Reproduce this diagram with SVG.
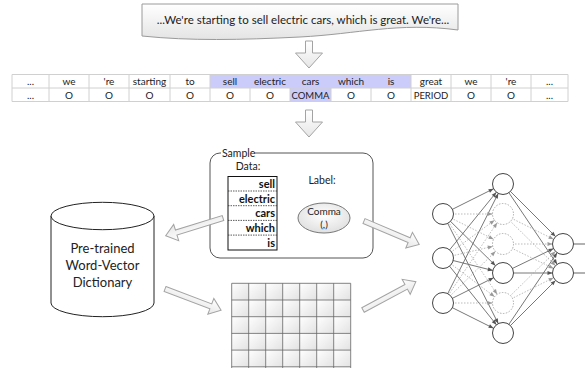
<svg xmlns="http://www.w3.org/2000/svg" width="585" height="368" viewBox="0 0 585 368">
  <style>
    text { font-family: Lato, "Liberation Sans", "DejaVu Sans", sans-serif; fill: #222; }
    .tbl { font-size: 10px; text-anchor: middle; }
    .cellline { stroke: #d0d0d0; stroke-width: 1; fill: none; }
    .blockarrow { fill: url(#arrowFill); stroke: #a3a3a3; stroke-width: 1; stroke-linejoin: miter; }
    .node { fill: #fff; stroke: #444; stroke-width: 1; }
    .ghost { fill: #fff; stroke: #aaa; stroke-width: 1; stroke-dasharray: 1.5 1.5; }
    .edge { stroke: #555; stroke-width: 0.8; fill: none; marker-end: url(#tipSolid); }
    .ghostedge { stroke: #aaa; stroke-width: 0.8; stroke-dasharray: 1.5 1.5; fill: none; marker-end: url(#tipGhost); }
    .word { font-size: 11px; font-weight: bold; text-anchor: end; fill: #111; }
  </style>
  <defs>
    <linearGradient id="bannerFill" x1="0" y1="0" x2="0" y2="1">
      <stop offset="0" stop-color="#ffffff"/>
      <stop offset="1" stop-color="#e4e4e4"/>
    </linearGradient>
    <linearGradient id="arrowFill" x1="0" y1="0" x2="0" y2="1">
      <stop offset="0" stop-color="#ffffff"/>
      <stop offset="1" stop-color="#e6e6e6"/>
    </linearGradient>
    <linearGradient id="cellFill" x1="0" y1="0" x2="1" y2="1">
      <stop offset="0" stop-color="#ffffff"/>
      <stop offset="1" stop-color="#e2e2e2"/>
    </linearGradient>
    <radialGradient id="ovalFill" cx="0.5" cy="0.4" r="0.6">
      <stop offset="0" stop-color="#ffffff"/>
      <stop offset="1" stop-color="#e0e0e0"/>
    </radialGradient>
    <pattern id="cellPat" patternUnits="userSpaceOnUse" x="231.7" y="283.3" width="17" height="16.7">
      <rect width="17" height="16.7" fill="url(#cellFill)"/>
    </pattern>
    <!-- hollow block arrows -->
    <path id="downArrow" d="M-3.5,0 V12 H-13.5 L0,27 L13.5,12 H3.5 V0 Z"/>
    <path id="sideArrow" d="M0,-2.6 H49 V-8.5 L60,0 L49,8.5 V2.6 H0 Z"/>
    <marker id="tipSolid" markerUnits="userSpaceOnUse" markerWidth="6" markerHeight="6" refX="15.5" refY="0" orient="auto" overflow="visible">
      <path d="M0,-2 L5,0 L0,2 Z" fill="#555"/>
    </marker>
    <marker id="tipGhost" markerUnits="userSpaceOnUse" markerWidth="6" markerHeight="6" refX="15.5" refY="0" orient="auto" overflow="visible">
      <path d="M0,-2 L5,0 L0,2 Z" fill="#999"/>
    </marker>
  </defs>

  <!-- sentence banner -->
  <g id="sentence">
    <path d="M142,4 H458 V30 C398,22 358,34 300,37 C240,40 190,41 142,36 Z" fill="url(#bannerFill)" stroke="#9a9a9a" stroke-width="1"/>
    <text x="303" y="24" font-size="11.5" text-anchor="middle">...We're starting to sell electric cars, which is great. We're...</text>
  </g>

  <!-- token / label table -->
  <g id="token-table">
    <rect x="12" y="74.5" width="556" height="27" fill="#fff"/>
    <rect x="210" y="74.5" width="201" height="13.5" fill="#ccccfa"/>
    <rect x="290" y="88" width="41" height="13.5" fill="#ccccfa"/>
    <path class="cellline" d="M12,74.5 H568 M12,88 H568 M12,101.5 H568
      M12,74.5 V101.5 M49,74.5 V101.5 M89,74.5 V101.5 M129,74.5 V101.5 M170,74.5 V101.5 M210,74.5 V101.5
      M250,88 V101.5 M290,88 V101.5 M331,88 V101.5 M371,88 V101.5 M411,74.5 V101.5
      M451,74.5 V101.5 M491,74.5 V101.5 M531,74.5 V101.5 M568,74.5 V101.5"/>
    <g class="tbl">
      <text x="30.5" y="85">...</text>
      <text x="69" y="85">we</text>
      <text x="109" y="85">'re</text>
      <text x="149.5" y="85">starting</text>
      <text x="190" y="85">to</text>
      <text x="230" y="85">sell</text>
      <text x="270" y="85">electric</text>
      <text x="310.5" y="85">cars</text>
      <text x="351" y="85">which</text>
      <text x="391" y="85">is</text>
      <text x="431" y="85">great</text>
      <text x="471" y="85">we</text>
      <text x="511" y="85">'re</text>
      <text x="549.5" y="85">...</text>
      <text x="30.5" y="98.5">...</text>
      <text x="69" y="98.5">O</text>
      <text x="109" y="98.5">O</text>
      <text x="149.5" y="98.5">O</text>
      <text x="190" y="98.5">O</text>
      <text x="230" y="98.5">O</text>
      <text x="270" y="98.5">O</text>
      <text x="310.5" y="98.5" font-size="9.5">COMMA</text>
      <text x="351" y="98.5">O</text>
      <text x="391" y="98.5">O</text>
      <text x="431" y="98.5" font-size="9.5">PERIOD</text>
      <text x="471" y="98.5">O</text>
      <text x="511" y="98.5">O</text>
      <text x="549.5" y="98.5">...</text>
    </g>
  </g>

  <!-- sample box -->
  <g id="sample">
    <rect x="210" y="153" width="163" height="105" rx="10" fill="#fff" stroke="#555" stroke-width="1"/>
    <rect x="221" y="149" width="33" height="8" fill="#fff"/>
    <text x="222" y="157" font-size="10.5">Sample</text>
    <text x="248" y="170" font-size="10.5" text-anchor="middle">Data:</text>
    <rect x="228" y="176.5" width="49" height="73.5" fill="#fff" stroke="#111" stroke-width="1"/>
    <path d="M228,191 H277 M228,205.7 H277 M228,220.4 H277 M228,235.1 H277" stroke="#333" stroke-width="0.8" stroke-dasharray="1.5 1"/>
    <text class="word" x="275" y="188">sell</text>
    <text class="word" x="275" y="202.5">electric</text>
    <text class="word" x="275" y="217">cars</text>
    <text class="word" x="275" y="231.7">which</text>
    <text class="word" x="275" y="246.5">is</text>
    <text x="322" y="184" font-size="10.5" text-anchor="middle">Label:</text>
    <ellipse cx="324" cy="218" rx="26" ry="15" fill="url(#ovalFill)" stroke="#777" stroke-width="1"/>
    <text x="324" y="215" font-size="10" text-anchor="middle">Comma</text>
    <text x="324" y="228" font-size="10" text-anchor="middle">(,)</text>
  </g>

  <!-- word-vector dictionary -->
  <g id="dictionary">
    <path d="M51,216 V303 A51.5,13.7 0 0 0 154,303 V216" fill="#fff" stroke="#222" stroke-width="1"/>
    <ellipse cx="102.5" cy="216" rx="51.5" ry="13.7" fill="#fff" stroke="#222" stroke-width="1"/>
    <text x="102.5" y="253" font-size="13" text-anchor="middle">Pre-trained</text>
    <text x="102.5" y="270" font-size="13" text-anchor="middle">Word-Vector</text>
    <text x="102.5" y="287" font-size="13" text-anchor="middle">Dictionary</text>
  </g>

  <!-- embedding matrix -->
  <g id="matrix">
    <rect x="231.7" y="283.3" width="119" height="84" fill="url(#cellPat)"/>
    <path d="M231.7,283.3 H350.7 M231.7,300 H350.7 M231.7,316.7 H350.7 M231.7,333.4 H350.7 M231.7,350.1 H350.7 M231.7,366.8 H350.7
      M231.7,283.3 V368 M248.7,283.3 V368 M265.7,283.3 V368 M282.7,283.3 V368 M299.7,283.3 V368 M316.7,283.3 V368 M333.7,283.3 V368 M350.7,283.3 V368"
      fill="none" stroke="#666" stroke-width="0.8"/>
  </g>

  <!-- flow arrows -->
  <g id="connectors">
    <use href="#downArrow" class="blockarrow" transform="translate(309,41)"/>
    <use href="#downArrow" class="blockarrow" transform="translate(309,110)"/>
    <use href="#sideArrow" class="blockarrow" transform="translate(223,218) rotate(162.8)"/>
    <use href="#sideArrow" class="blockarrow" transform="translate(165,289) rotate(20.8)"/>
    <use href="#sideArrow" class="blockarrow" transform="translate(364,221) rotate(23)"/>
    <use href="#sideArrow" class="blockarrow" transform="translate(363,310) rotate(-28.2)"/>
  </g>

  <!-- neural network -->
  <g id="network">
    <g id="net-edges">
      <!-- input to hidden -->
      <path class="edge" d="M443,214 L503,184"/>
      <path class="edge" d="M443,214 L503,273"/>
      <path class="edge" d="M443,214 L503,333"/>
      <path class="edge" d="M443,258 L503,184"/>
      <path class="edge" d="M443,258 L503,273"/>
      <path class="edge" d="M443,258 L503,333"/>
      <path class="edge" d="M443,303 L503,184"/>
      <path class="edge" d="M443,303 L503,273"/>
      <path class="edge" d="M443,303 L503,333"/>
      <path class="ghostedge" d="M443,214 L503,214"/>
      <path class="ghostedge" d="M443,214 L503,244"/>
      <path class="ghostedge" d="M443,214 L503,303"/>
      <path class="ghostedge" d="M443,258 L503,214"/>
      <path class="ghostedge" d="M443,258 L503,244"/>
      <path class="ghostedge" d="M443,258 L503,303"/>
      <path class="ghostedge" d="M443,303 L503,214"/>
      <path class="ghostedge" d="M443,303 L503,244"/>
      <path class="ghostedge" d="M443,303 L503,303"/>
      <!-- hidden to output -->
      <path class="edge" d="M503,184 L563,244"/>
      <path class="edge" d="M503,184 L563,273"/>
      <path class="edge" d="M503,273 L563,244"/>
      <path class="edge" d="M503,273 L563,273" stroke="#999" stroke-width="1.5"/>
      <path class="edge" d="M503,333 L563,244"/>
      <path class="edge" d="M503,333 L563,273"/>
      <path class="ghostedge" d="M503,214 L563,244"/>
      <path class="ghostedge" d="M503,214 L563,273"/>
      <path class="ghostedge" d="M503,244 L563,244"/>
      <path class="ghostedge" d="M503,244 L563,273"/>
      <path class="ghostedge" d="M503,303 L563,244"/>
      <path class="ghostedge" d="M503,303 L563,273"/>
      <!-- outputs leaving the net -->
      <path d="M573,244 H585 M573,273 H585" stroke="#999" stroke-width="1.5"/>
    </g>
    <g id="input-layer">
      <circle class="node" cx="443" cy="214" r="10.5"/>
      <circle class="node" cx="443" cy="258" r="10.5"/>
      <circle class="node" cx="443" cy="303" r="10.5"/>
    </g>
    <g id="hidden-layer">
      <circle class="node" cx="503" cy="184" r="10.5"/>
      <circle class="ghost" cx="503" cy="214" r="10.5"/>
      <circle class="ghost" cx="503" cy="244" r="10.5"/>
      <circle class="node" cx="503" cy="273" r="10.5"/>
      <circle class="ghost" cx="503" cy="303" r="10.5"/>
      <circle class="node" cx="503" cy="333" r="10.5"/>
    </g>
    <g id="output-layer">
      <circle class="node" cx="563" cy="244" r="10.5"/>
      <circle class="node" cx="563" cy="273" r="10.5"/>
    </g>
  </g>
</svg>
